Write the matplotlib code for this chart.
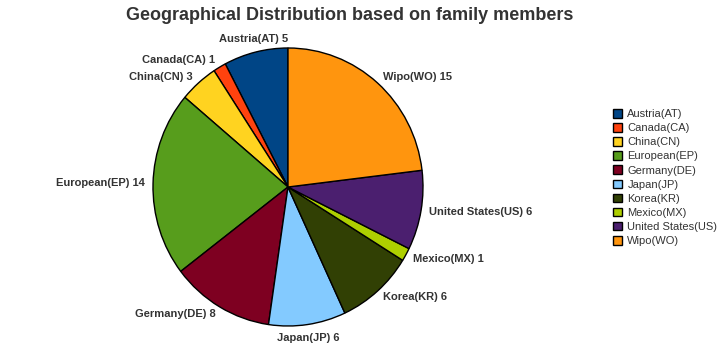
import numpy as np
import matplotlib.pyplot as plt
from matplotlib.patches import Patch

plt.rcParams['font.family'] = ['Liberation Sans', 'DejaVu Sans']

countries = ['Austria(AT)', 'Canada(CA)', 'China(CN)', 'European(EP)', 'Germany(DE)',
             'Japan(JP)', 'Korea(KR)', 'Mexico(MX)', 'United States(US)', 'Wipo(WO)']
members = [5, 1, 3, 14, 8, 6, 6, 1, 6, 15]
colors = ['#004586', '#ff420e', '#ffd320', '#579d1c', '#7e0021',
          '#83caff', '#314004', '#aecf00', '#4b1f6f', '#ff950e']

W, H = 722, 353
fig = plt.figure(figsize=(W / 100, H / 100), dpi=100)
ax = fig.add_axes([0, 0, 1, 1])

# pie centre and radii in pixels (slightly taller than wide, like the original)
cx, cy, rx, ry = 288, H - 187, 135, 139
wedges, _ = ax.pie(members, colors=colors, startangle=90, counterclock=True,
                   radius=1, frame=True,
                   wedgeprops=dict(edgecolor='black', linewidth=1))
ax.set_aspect('auto')
ax.set_xlim(-cx / rx, (W - cx) / rx)
ax.set_ylim(-cy / ry, (H - cy) / ry)
ax.axis('off')

# labels outside each slice
for w, name, v in zip(wedges, countries, members):
    ang = np.deg2rad((w.theta1 + w.theta2) / 2)
    dx, dy = np.cos(ang), np.sin(ang)
    x = dx * 1.06
    y = dy * 1.06
    if abs(dx) < 0.3:
        ha = 'center'
    elif dx > 0:
        ha = 'left'
    else:
        ha = 'right'
    if dy > 0.9:
        va = 'bottom'
    elif dy < -0.9:
        va = 'top'
    else:
        va = 'center'
    ax.text(x, y, f'{name} {v}', ha=ha, va=va, fontsize=8,
            fontweight='bold', color='#333333')

handles = [Patch(facecolor=c, edgecolor='black', linewidth=1) for c in colors]
fig.legend(handles, countries, loc='center left', bbox_to_anchor=(0.842, 0.497),
           frameon=False, fontsize=8, handlelength=0.8, handleheight=0.8,
           handletextpad=0.45, labelspacing=0.36, borderpad=0,
           labelcolor='#333333')

fig.text(0.485, 0.955, 'Geographical Distribution based on family members',
         ha='center', va='center', fontsize=13, fontweight='bold', color='#333333')

fig.savefig('out.png', dpi=100)
